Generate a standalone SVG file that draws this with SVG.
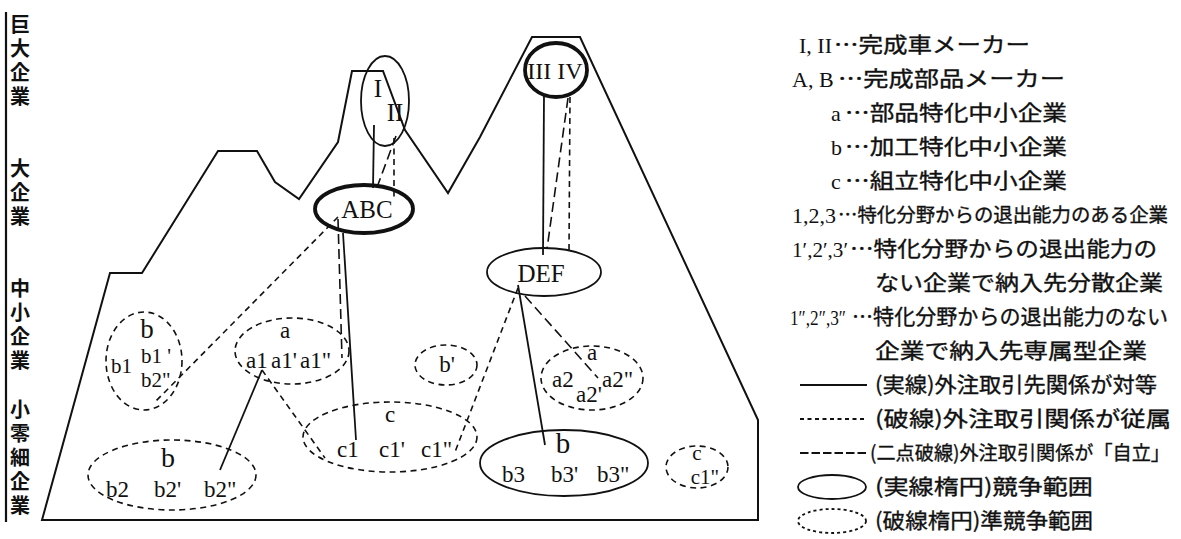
<svg xmlns="http://www.w3.org/2000/svg" width="1181" height="539" viewBox="0 0 1181 539">
  <style>
    .bg { fill: #ffffff; }
    .outline { fill: none; stroke: #111; stroke-width: 2; stroke-linejoin: miter; }
    .axis { fill: none; stroke: #111; stroke-width: 2.2; }
    .solid { fill: none; stroke: #111; stroke-width: 1.8; }
    .thick { fill: none; stroke: #111; stroke-width: 3.8; }
    .dash { fill: none; stroke: #111; stroke-width: 1.6; stroke-dasharray: 6 4.5; }
    .dash2 { fill: none; stroke: #111; stroke-width: 1.6; stroke-dasharray: 10 5; }
    .dell { fill: none; stroke: #111; stroke-width: 1.6; stroke-dasharray: 6 4.5; }
    .rom { font-family: "Liberation Serif", "Times New Roman", serif; fill: #111; }
    .big { font-size: 25px; }
    .lab { font-size: 23px; }
    .sm { font-size: 21px; }
    .hd { font-size: 27px; }
    .jp { font-family: "Noto Sans CJK JP", "Noto Sans CJK SC", sans-serif; fill: #111; font-size: 21px; stroke: #111; stroke-width: 0.35; }
    .jpn { font-family: "Noto Sans CJK JP", "Noto Sans CJK SC", sans-serif; fill: #111; font-size: 19.5px; stroke: #111; stroke-width: 0.35; }
    .ax { font-family: "Noto Sans CJK JP", "Noto Sans CJK SC", sans-serif; fill: #111; font-size: 20px; font-weight: bold; writing-mode: vertical-rl; letter-spacing: 4px; }
    .lg { font-family: "Liberation Serif", "Times New Roman", serif; fill: #111; font-size: 22px; }
  </style>

  <rect class="bg" x="0" y="0" width="1181" height="539"/>

  <!-- scale axis with firm-size bands, set vertically -->
  <g id="axis">
    <line class="axis" x1="6" y1="12" x2="6" y2="522"/>
    <text class="ax" x="20" y="14">巨大企業</text>
    <text class="ax" x="20" y="158">大企業</text>
    <text class="ax" x="20" y="278">中小企業</text>
    <text class="ax" x="20" y="399">小零細企業</text>
  </g>

  <!-- mountain-shaped industry outline -->
  <g id="mountain">
    <polygon class="outline" points="42,520 110,273 142,273 218,151 257,151 275,182 299,199 338,142 352,71 383,71 405,130 448,193 480,137 532,37 580,37 758,420 758,520"/>
  </g>

  <!-- connectors between firms -->
  <g id="connectors">
    <!-- I/II to ABC -->
    <line class="solid" x1="374" y1="125" x2="373" y2="188"/>
    <line class="dash2" x1="396" y1="136" x2="376" y2="190"/>
    <line class="dash" x1="394" y1="138" x2="394" y2="197"/>
    <!-- III IV to DEF -->
    <line class="solid" x1="544" y1="94" x2="543" y2="255"/>
    <line class="dash2" x1="568" y1="98" x2="547" y2="249"/>
    <line class="dash" x1="570" y1="97" x2="569" y2="251"/>
    <!-- ABC to lower tiers -->
    <line class="dash" x1="338" y1="217" x2="155" y2="402"/>
    <line class="dash2" x1="338" y1="219" x2="342" y2="358"/>
    <line class="solid" x1="343" y1="233" x2="356" y2="440"/>
    <!-- a1 to b2'' and c -->
    <line class="solid" x1="262" y1="370" x2="220" y2="470"/>
    <line class="dash" x1="262" y1="370" x2="325" y2="458"/>
    <!-- DEF to lower tiers -->
    <line class="solid" x1="518" y1="285" x2="545" y2="445"/>
    <line class="dash" x1="518" y1="288" x2="455" y2="452"/>
    <line class="dash2" x1="525" y1="296" x2="598" y2="378"/>
  </g>

  <!-- finished-vehicle makers -->
  <g id="node-I-II">
    <ellipse class="solid" cx="385" cy="101" rx="24" ry="45"/>
    <text class="rom" x="378" y="97" font-size="25" text-anchor="middle">I</text>
    <text class="rom" x="395" y="121" font-size="25" text-anchor="middle">II</text>
  </g>
  <g id="node-III-IV">
    <ellipse class="thick" cx="556" cy="70" rx="31" ry="27"/>
    <text class="rom" x="555" y="79" font-size="24" text-anchor="middle">III IV</text>
  </g>

  <!-- finished-parts makers -->
  <g id="node-ABC">
    <ellipse class="thick" cx="364" cy="209" rx="49" ry="24"/>
    <text class="rom big" x="367" y="218" text-anchor="middle">ABC</text>
  </g>
  <g id="node-DEF">
    <ellipse class="solid" cx="544" cy="272" rx="57" ry="24"/>
    <text class="rom big" x="541" y="282" text-anchor="middle">DEF</text>
  </g>

  <!-- small and medium firms -->
  <g id="node-b1">
    <ellipse class="dell" cx="144" cy="361" rx="38" ry="49"/>
    <text class="rom hd" x="147" y="338" text-anchor="middle">b</text>
    <text class="rom sm" x="111" y="373">b1</text>
    <text class="rom sm" x="141" y="363">b1 '</text>
    <text class="rom sm" x="141" y="387">b2"</text>
  </g>
  <g id="node-a1">
    <ellipse class="dell" cx="292" cy="351" rx="57" ry="33"/>
    <text class="rom lab" x="285" y="338" text-anchor="middle">a</text>
    <text class="rom lab" x="246" y="368">a1</text>
    <text class="rom lab" x="271" y="368">a1'</text>
    <text class="rom lab" x="300" y="368">a1"</text>
  </g>
  <g id="node-b-prime">
    <ellipse class="dell" cx="446" cy="365" rx="31" ry="20"/>
    <text class="rom lab" x="447" y="372" text-anchor="middle">b'</text>
  </g>
  <g id="node-a2">
    <ellipse class="dell" cx="592" cy="378" rx="51" ry="32"/>
    <text class="rom lab" x="592" y="360" text-anchor="middle">a</text>
    <text class="rom lab" x="552" y="387">a2</text>
    <text class="rom lab" x="576" y="402">a2'</text>
    <text class="rom lab" x="602" y="387">a2"</text>
  </g>

  <!-- small-scale and micro firms -->
  <g id="node-c">
    <ellipse class="dell" cx="390" cy="437" rx="87" ry="35"/>
    <text class="rom lab" x="390" y="422" text-anchor="middle">c</text>
    <text class="rom lab" x="337" y="457">c1</text>
    <text class="rom lab" x="379" y="457">c1'</text>
    <text class="rom lab" x="421" y="457">c1"</text>
  </g>
  <g id="node-b2">
    <ellipse class="dell" cx="172" cy="475" rx="84" ry="35"/>
    <text class="rom" x="168" y="467" font-size="28" text-anchor="middle">b</text>
    <text class="rom lab" x="106" y="497">b2</text>
    <text class="rom lab" x="154" y="497">b2'</text>
    <text class="rom lab" x="204" y="497">b2"</text>
  </g>
  <g id="node-b3">
    <ellipse class="solid" cx="564" cy="463" rx="84" ry="33"/>
    <text class="rom" x="563" y="453" font-size="29" text-anchor="middle">b</text>
    <text class="rom lab" x="502" y="482">b3</text>
    <text class="rom lab" x="551" y="482">b3'</text>
    <text class="rom lab" x="597" y="482">b3"</text>
  </g>
  <g id="node-c-right">
    <ellipse class="dell" cx="697" cy="467" rx="31" ry="21"/>
    <text class="rom sm" x="697" y="460" text-anchor="middle">c</text>
    <text class="rom sm" x="705" y="484" text-anchor="middle">c1"</text>
  </g>

  <!-- key -->
  <g id="legend">
    <text class="lg" x="799" y="53">I, II</text>
    <text class="jp" x="834" y="52" textLength="196" lengthAdjust="spacingAndGlyphs">…完成車メーカー</text>

    <text class="lg" x="792" y="87">A, B</text>
    <text class="jp" x="838" y="86" textLength="227" lengthAdjust="spacingAndGlyphs">…完成部品メーカー</text>

    <text class="lg" x="831" y="121">a</text>
    <text class="jp" x="845" y="120" textLength="222" lengthAdjust="spacingAndGlyphs">…部品特化中小企業</text>

    <text class="lg" x="831" y="155">b</text>
    <text class="jp" x="845" y="154" textLength="222" lengthAdjust="spacingAndGlyphs">…加工特化中小企業</text>

    <text class="lg" x="831" y="189">c</text>
    <text class="jp" x="845" y="188" textLength="222" lengthAdjust="spacingAndGlyphs">…組立特化中小企業</text>

    <text class="lg" x="792" y="223">1,2,3</text>
    <text class="jpn" x="838" y="222" textLength="330" lengthAdjust="spacingAndGlyphs">…特化分野からの退出能力のある企業</text>

    <text class="lg" x="792" y="257" textLength="56" lengthAdjust="spacingAndGlyphs">1′,2′,3′</text>
    <text class="jp" x="850" y="256" textLength="307" lengthAdjust="spacingAndGlyphs">…特化分野からの退出能力の</text>

    <text class="jp" x="875" y="290" textLength="288" lengthAdjust="spacingAndGlyphs">ない企業で納入先分散企業</text>

    <text class="lg" x="790" y="325" textLength="56" lengthAdjust="spacingAndGlyphs">1″,2″,3″</text>
    <text class="jp" x="852" y="324" textLength="316" lengthAdjust="spacingAndGlyphs">…特化分野からの退出能力のない</text>

    <text class="jp" x="875" y="358" textLength="272" lengthAdjust="spacingAndGlyphs">企業で納入先専属型企業</text>

    <line class="solid" x1="800" y1="385" x2="867" y2="385"/>
    <text class="jp" x="875" y="392" textLength="282" lengthAdjust="spacingAndGlyphs">(実線)外注取引先関係が対等</text>

    <line class="solid" x1="800" y1="419" x2="867" y2="419" stroke-dasharray="4 3.5"/>
    <text class="jp" x="875" y="426" textLength="296" lengthAdjust="spacingAndGlyphs">(破線)外注取引関係が従属</text>

    <line class="solid" x1="800" y1="453" x2="867" y2="453" stroke-dasharray="8.5 3"/>
    <text class="jpn" x="870" y="460" textLength="300" lengthAdjust="spacingAndGlyphs">(二点破線)外注取引関係が「自立」</text>

    <ellipse class="solid" cx="832" cy="487" rx="34" ry="12"/>
    <text class="jp" x="875" y="494" textLength="218" lengthAdjust="spacingAndGlyphs">(実線楕円)競争範囲</text>

    <ellipse class="solid" cx="832" cy="521" rx="34" ry="12" stroke-dasharray="3 3"/>
    <text class="jp" x="875" y="528" textLength="218" lengthAdjust="spacingAndGlyphs">(破線楕円)準競争範囲</text>
  </g>
</svg>
